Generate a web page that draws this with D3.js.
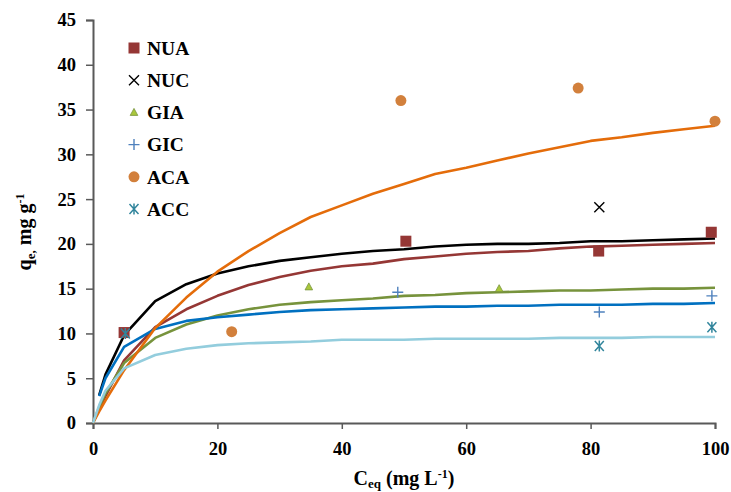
<!DOCTYPE html>
<html>
<head>
<meta charset="utf-8">
<script src="https://cdn.jsdelivr.net/npm/d3@7.9.0/dist/d3.min.js"></script>
<style>
  body { margin: 0; background: #fff; }
  text { font-family: "Liberation Serif", "DejaVu Serif", serif; font-weight: bold; fill: #000; }
</style>
</head>
<body>
<svg id="chart" width="731" height="492"></svg>
<script>
// fitted curves
const fitX = [0, 1, 2, 5, 10, 15, 20, 25, 30, 35, 40, 45, 50, 55, 60, 65, 70, 75, 80, 85, 90, 95, 100];
const fitNUA = [0, 1.6, 3.0, 7.0, 10.7, 12.7, 14.2, 15.4, 16.3, 17.0, 17.5, 17.8, 18.3, 18.6, 18.9, 19.1, 19.2, 19.5, 19.7, 19.8, 19.9, 20.0, 20.1];
const fitNUC = [null, 3.1, 5.4, 9.8, 13.6, 15.5, 16.7, 17.5, 18.1, 18.5, 18.9, 19.2, 19.4, 19.7, 19.9, 20.0, 20.0, 20.1, 20.3, 20.3, 20.4, 20.5, 20.6];
const fitGIA = [0, 1.8, 3.3, 6.7, 9.5, 11.0, 12.0, 12.7, 13.2, 13.5, 13.7, 13.9, 14.2, 14.3, 14.5, 14.6, 14.7, 14.8, 14.8, 14.9, 15.0, 15.0, 15.1];
const fitGIC = [null, 3.0, 5.0, 8.5, 10.5, 11.4, 11.8, 12.1, 12.4, 12.6, 12.7, 12.8, 12.9, 13.0, 13.0, 13.1, 13.1, 13.2, 13.2, 13.2, 13.3, 13.3, 13.4];
const fitACA = [0, 1.3, 2.5, 5.9, 10.6, 14.0, 16.9, 19.2, 21.2, 23.0, 24.3, 25.6, 26.7, 27.8, 28.5, 29.3, 30.1, 30.8, 31.5, 31.9, 32.4, 32.8, 33.2];
const fitACC = [0, 2.0, 3.6, 6.1, 7.6, 8.3, 8.7, 8.9, 9.0, 9.1, 9.3, 9.3, 9.3, 9.4, 9.4, 9.4, 9.4, 9.5, 9.5, 9.5, 9.6, 9.6, 9.6];

// measured points [Ceq, qe]
const ptsNUA = [[5, 10.1], [50.3, 20.3], [81.3, 19.2], [99.4, 21.3]];
const ptsNUC = [[81.4, 24.1]];
const ptsGIA = [[34.7, 15.2], [65.3, 15.0]];
const ptsGIC = [[49.0, 14.6], [81.4, 12.4], [99.5, 14.2]];
const ptsACA = [[22.3, 10.2], [49.5, 36.0], [78.0, 37.4], [100, 33.7]];
const ptsACC = [[5.2, 10.0], [81.4, 8.6], [99.5, 10.7]];

const xTicks = [0, 20, 40, 60, 80, 100];
const yTicks = [0, 5, 10, 15, 20, 25, 30, 35, 40, 45];

const svg = d3.select('#chart');
const x = d3.scaleLinear().domain([0, 100]).range([93, 715]);
const y = d3.scaleLinear().domain([0, 45]).range([423, 20]);

// axes
const axisColor = '#595959';
const xAxis = svg.append('g').attr('transform', `translate(0,${y(0)})`)
  .call(d3.axisBottom(x).tickValues(xTicks).tickSize(6).tickPadding(17).tickFormat(d3.format('d')));
const yAxis = svg.append('g').attr('transform', `translate(${x(0)},0)`)
  .call(d3.axisLeft(y).tickValues(yTicks).tickSize(7).tickPadding(10).tickFormat(d3.format('d')));
[xAxis, yAxis].forEach(g => {
  g.select('.domain').attr('stroke', axisColor).attr('stroke-width', 2);
  g.selectAll('.tick line').attr('stroke', axisColor).attr('stroke-width', 1.5);
  g.selectAll('text').style('font-size', '18.5px').attr('fill', '#000');
});
xAxis.selectAll('text').attr('dy', '0.5em');

// fitted lines
const curves = [
  { v: fitNUA, c: '#953735' },
  { v: fitNUC, c: '#000000' },
  { v: fitGIA, c: '#77933C' },
  { v: fitGIC, c: '#0070C0' },
  { v: fitACA, c: '#E46C0A' },
  { v: fitACC, c: '#93CDDD' }
];
const line = d3.line()
  .defined(d => d[1] !== null)
  .x(d => x(d[0])).y(d => y(d[1]));
curves.forEach(cv => {
  svg.append('path')
    .datum(fitX.map((xv, i) => [xv, cv.v[i]]))
    .attr('fill', 'none')
    .attr('stroke', cv.c)
    .attr('stroke-width', 2.6)
    .attr('stroke-linejoin', 'round')
    .attr('d', line);
});

// marker drawers
function drawMarker(g, type, cx, cy) {
  if (type === 'square') {
    g.append('rect').attr('x', cx - 5.5).attr('y', cy - 5.5).attr('width', 11).attr('height', 11)
      .attr('fill', '#953735');
  } else if (type === 'x') {
    g.append('path').attr('d', `M${cx - 5},${cy - 5}L${cx + 5},${cy + 5}M${cx - 5},${cy + 5}L${cx + 5},${cy - 5}`)
      .attr('stroke', '#000').attr('stroke-width', 1.4);
  } else if (type === 'tri') {
    g.append('path').attr('d', `M${cx},${cy - 4}L${cx + 3.8},${cy + 3}L${cx - 3.8},${cy + 3}Z`)
      .attr('fill', '#A9C73A').attr('stroke', '#77933C').attr('stroke-width', 0.8);
  } else if (type === 'plus') {
    g.append('path').attr('d', `M${cx - 5.5},${cy}L${cx + 5.5},${cy}M${cx},${cy - 5.5}L${cx},${cy + 5.5}`)
      .attr('stroke', '#4F81BD').attr('stroke-width', 1.4);
  } else if (type === 'circle') {
    g.append('circle').attr('cx', cx).attr('cy', cy).attr('r', 5.5).attr('fill', '#D2803C');
  } else if (type === 'star') {
    g.append('path').attr('d',
      `M${cx - 4.5},${cy - 5}L${cx + 4.5},${cy + 5}M${cx - 4.5},${cy + 5}L${cx + 4.5},${cy - 5}M${cx},${cy - 5.5}L${cx},${cy + 5.5}`)
      .attr('stroke', '#31859C').attr('stroke-width', 1.5);
  }
}

const series = [
  { name: 'NUA', type: 'square', pts: ptsNUA },
  { name: 'NUC', type: 'x', pts: ptsNUC },
  { name: 'GIA', type: 'tri', pts: ptsGIA },
  { name: 'GIC', type: 'plus', pts: ptsGIC },
  { name: 'ACA', type: 'circle', pts: ptsACA },
  { name: 'ACC', type: 'star', pts: ptsACC }
];
const marks = svg.append('g');
series.forEach(s => s.pts.forEach(p => drawMarker(marks, s.type, x(p[0]), y(p[1]))));

// legend
const legend = svg.append('g');
series.forEach((s, i) => {
  const ly = 48 + i * 32.2;
  drawMarker(legend, s.type, 134, ly);
  legend.append('text').attr('x', 147).attr('y', ly).attr('dy', '0.35em')
    .style('font-size', '19.5px').text(s.name);
});

// axis titles
const xt = svg.append('text').attr('x', 404).attr('y', 485).attr('text-anchor', 'middle').style('font-size', '20px');
xt.append('tspan').text('C');
xt.append('tspan').attr('dy', 3).style('font-size', '13px').text('eq');
xt.append('tspan').attr('dy', -3).text(' (mg L');
xt.append('tspan').attr('dy', -7).style('font-size', '12px').text('-1');
xt.append('tspan').attr('dy', 7).text(')');

const yt = svg.append('text').attr('transform', 'translate(31,232) rotate(-90)')
  .attr('text-anchor', 'middle').style('font-size', '20px');
yt.append('tspan').text('q');
yt.append('tspan').attr('dy', 4).style('font-size', '13px').text('e,');
yt.append('tspan').attr('dy', -4).text(' mg g');
yt.append('tspan').attr('dy', -7).style('font-size', '12px').text('-1');
</script>
</body>
</html>
